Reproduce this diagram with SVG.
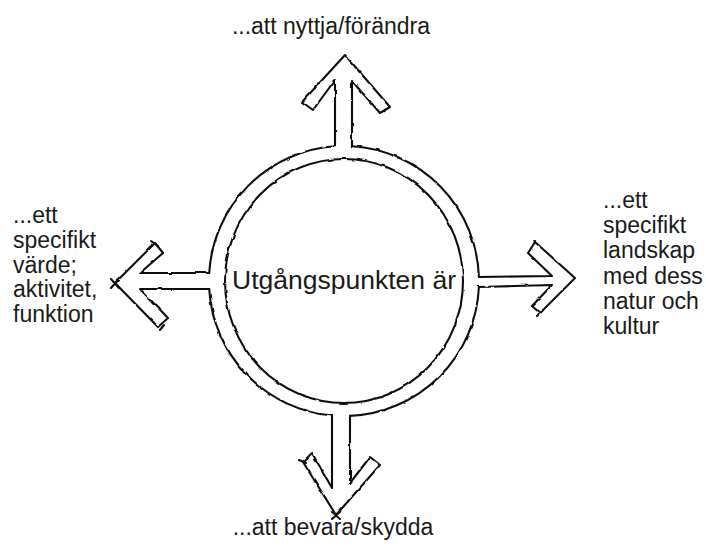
<svg xmlns="http://www.w3.org/2000/svg" width="706" height="547" viewBox="0 0 706 547">
<defs>
<filter id="rough" x="-5%" y="-5%" width="110%" height="110%">
<feTurbulence type="fractalNoise" baseFrequency="0.09" numOctaves="2" seed="3" result="n"/>
<feDisplacementMap in="SourceGraphic" in2="n" scale="2.6" xChannelSelector="R" yChannelSelector="G"/>
</filter>
</defs>
<style>
.ln{fill:none;stroke:#111;stroke-width:2.1;stroke-linejoin:round;stroke-linecap:round}
.tx{font-family:"Liberation Sans",Arial,sans-serif;fill:#1a1a1a}
.lb{font-size:23px}
</style>
<rect width="706" height="547" fill="#fff"/>
<g id="center">
<g filter="url(#rough)">
<path class="ln" d="M352,146.2 A135 135 0 0 1 478.9,277 M478.9,287 A135 135 0 0 1 350,415.9 M332,415.5 A135 135 0 0 1 209.2,289 M209.2,273 A135 135 0 0 1 335,146.3"/>
<ellipse class="ln" cx="344" cy="281" rx="119" ry="122"/>
</g>
<text class="tx" x="344" y="289" font-size="26.5" text-anchor="middle">Utgångspunkten är</text>
</g>
<g id="connectors" filter="url(#rough)">
<path id="arrow-up" class="ln" d="M335,146.3 L335,80 L313,110 L302,102 L345,55 L390,107 L380,113 L352,81 L352,146.2"/>
<path id="arrow-right" class="ln" d="M478.9,277 L552,276 L528,253 L535,242 L575,278 L540,313 L532,306 L552,285 L478.9,287"/>
<path id="arrow-down" class="ln" d="M350,415.9 L350,483 L370,457 L380,465 L336,515 L303,462 L312,453 L332,488 L332,415.5"/>
<path id="arrow-left" class="ln" d="M209.2,289 L140,289 L168,318 L158,327 L115,283 L155,243 L163,253 L140,273 L209.2,273"/>
<path class="ln" d="M111,279 L119,288 M111,288 L119,279 M332,512 L340,519 M332,519 L340,512 M151,241 L158,246 M164,325 L160,330 M299,460 L306,463 M537,316 L543,310"/>
</g>
<g id="label-top"><text class="tx lb" x="331" y="34" text-anchor="middle">...att nyttja/förändra</text></g>
<g id="label-bottom"><text class="tx lb" x="333" y="535" text-anchor="middle">...att bevara/skydda</text></g>
<g id="label-left"><text class="tx lb" x="13" y="223"><tspan x="13">...ett</tspan><tspan x="13" dy="24.8">specifikt</tspan><tspan x="13" dy="24.8">värde;</tspan><tspan x="13" dy="24.8">aktivitet,</tspan><tspan x="13" dy="24.8">funktion</tspan></text></g>
<g id="label-right"><text class="tx lb" x="603" y="208"><tspan x="603">...ett</tspan><tspan x="603" dy="25.2">specifikt</tspan><tspan x="603" dy="25.2">landskap</tspan><tspan x="603" dy="25.2">med dess</tspan><tspan x="603" dy="25.2">natur och</tspan><tspan x="603" dy="25.2">kultur</tspan></text></g>
</svg>
